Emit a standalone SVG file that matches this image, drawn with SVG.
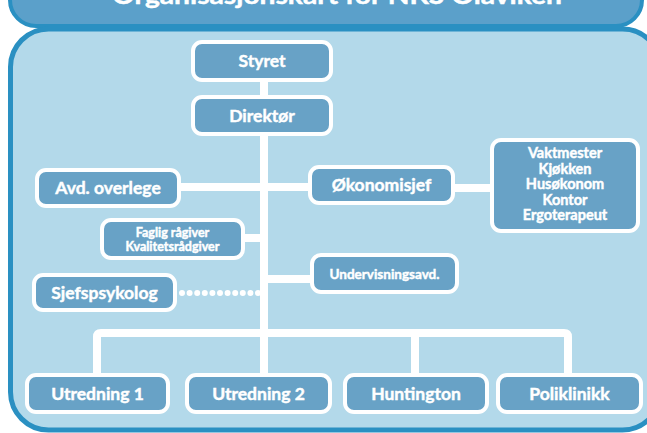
<svg xmlns="http://www.w3.org/2000/svg" width="647" height="433" viewBox="0 0 647 433">
<style>
.box{fill:#68a2c6;stroke:#ffffff;stroke-width:4}
.t{font-family:Lato,"Open Sans","Liberation Sans",sans-serif;font-weight:bold;fill:#ffffff;text-anchor:middle;stroke:#ffffff;stroke-width:0.45}
.l{font-size:17.5px}
.s{font-size:12.5px}
.m{font-size:14.5px}
.c{stroke:#ffffff;stroke-width:8;fill:none}
</style>
<rect x="0" y="0" width="647" height="433" fill="#ffffff"/>
<rect id="header" x="10" y="-40" width="632" height="66" rx="26" fill="#5ba0ca" stroke="#2a90c2" stroke-width="4"/>
<text class="t" x="337" y="3.5" font-size="24" textLength="450" lengthAdjust="spacingAndGlyphs">Organisasjonskart for NKS Olaviken</text>
<rect id="panel" x="10.5" y="29" width="650" height="401" rx="38" fill="#b3d9ea" stroke="#2a90c2" stroke-width="5"/>
<g id="connectors">
<line class="c" x1="264" y1="80" x2="264" y2="375"/>
<line class="c" x1="179" y1="187" x2="310" y2="187" stroke-width="9"/>
<line class="c" x1="453" y1="188" x2="492" y2="188" stroke-width="9"/>
<line class="c" x1="243" y1="238" x2="264" y2="238"/>
<line class="c" x1="264" y1="279" x2="312" y2="279"/>
<line x1="182" y1="293" x2="258" y2="293" stroke="#ffffff" stroke-width="6" stroke-linecap="round" stroke-dasharray="0 7.6"/>
<path class="c" d="M97 375 V337 Q97 333 101 333 H564 Q568 333 568 337 V375" stroke-linejoin="round"/>
<line class="c" x1="415" y1="333" x2="415" y2="375"/>
</g>
<g id="styret"><rect class="box" x="193" y="42" width="138" height="38" rx="9"/><text class="t l" x="262" y="67">Styret</text></g>
<g id="direktor"><rect class="box" x="193" y="97" width="138" height="37" rx="9"/><text class="t l" x="262" y="121.5">Direktør</text></g>
<g id="avd-overlege"><rect class="box" x="37" y="170" width="142" height="36" rx="9"/><text class="t l" x="108" y="194">Avd. overlege</text></g>
<g id="okonomisjef"><rect class="box" x="310" y="167" width="143" height="36" rx="9"/><text class="t l" x="381.5" y="191">Økonomisjef</text></g>
<g id="stab"><rect class="box" x="492" y="140" width="146" height="91" rx="9"/>
<text class="t m" x="565" y="158">Vaktmester</text>
<text class="t m" x="565" y="173.5">Kjøkken</text>
<text class="t m" x="565" y="189">Husøkonom</text>
<text class="t m" x="565" y="204.5">Kontor</text>
<text class="t m" x="565" y="220">Ergoterapeut</text></g>
<g id="faglig"><rect class="box" x="102" y="220" width="141" height="38" rx="9"/>
<text class="t s" x="172.5" y="236.5">Faglig rågiver</text>
<text class="t s" x="172.5" y="251">Kvalitetsrådgiver</text></g>
<g id="sjefspsykolog"><rect class="box" x="34" y="275" width="141" height="35" rx="9"/><text class="t l" x="104.5" y="298.5" font-size="18.5">Sjefspsykolog</text></g>
<g id="undervisning"><rect class="box" x="312" y="255" width="145" height="37" rx="9"/><text class="t" x="384.5" y="278.5" font-size="13.5">Undervisningsavd.</text></g>
<g id="utredning1"><rect class="box" x="27" y="375" width="141" height="37" rx="9"/><text class="t l" x="97.5" y="399.5">Utredning 1</text></g>
<g id="utredning2"><rect class="box" x="187" y="375" width="143" height="37" rx="9"/><text class="t l" x="258.5" y="399.5">Utredning 2</text></g>
<g id="huntington"><rect class="box" x="345" y="375" width="142" height="37" rx="9"/><text class="t l" x="416" y="399.5">Huntington</text></g>
<g id="poliklinikk"><rect class="box" x="498" y="375" width="143" height="37" rx="9"/><text class="t l" x="569.5" y="399.5">Poliklinikk</text></g>
</svg>
